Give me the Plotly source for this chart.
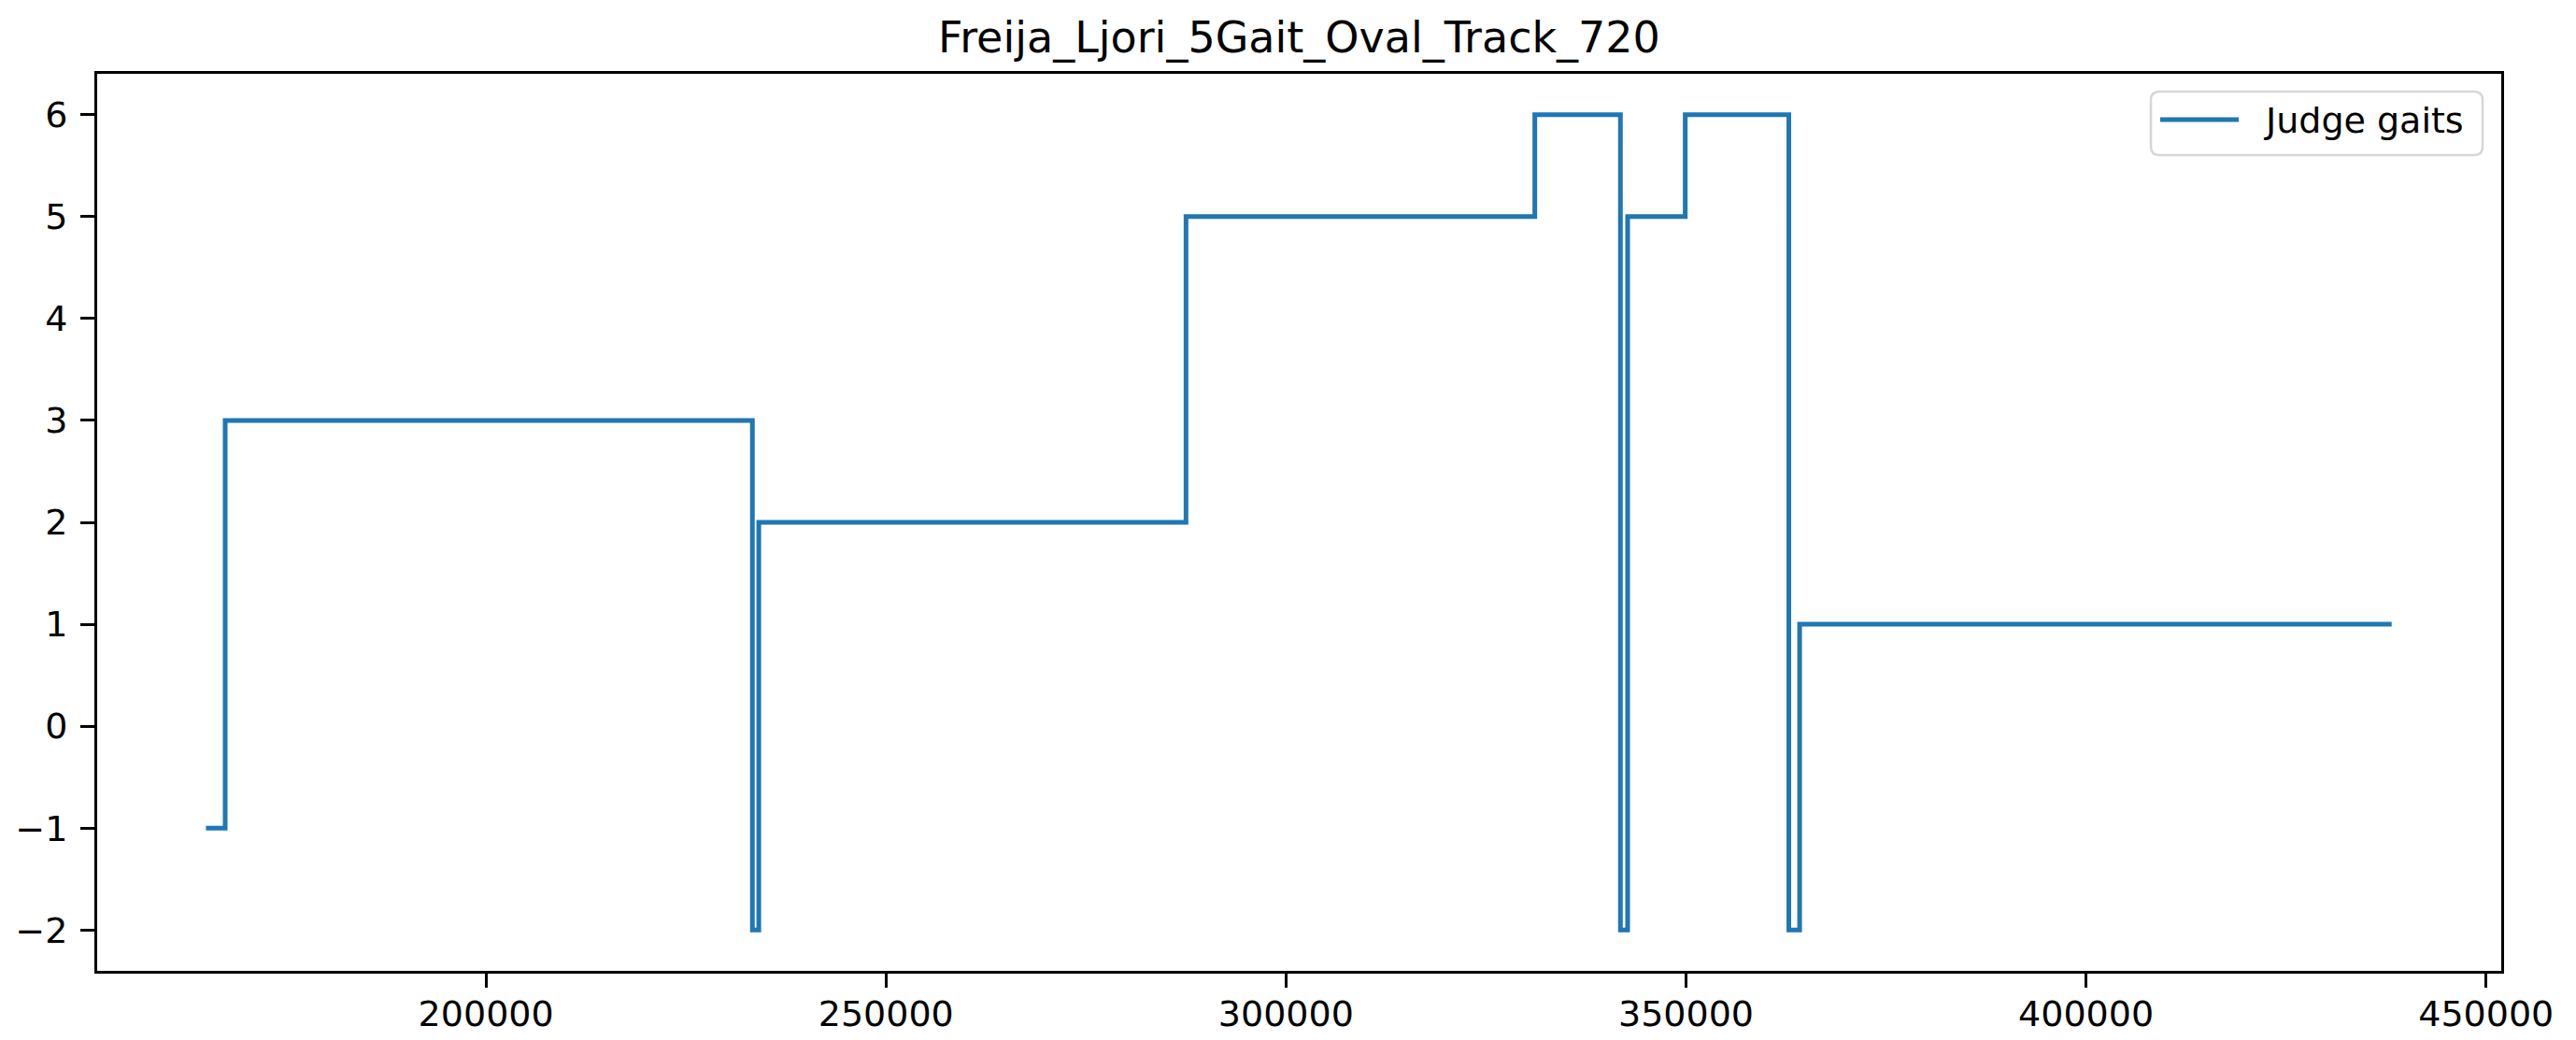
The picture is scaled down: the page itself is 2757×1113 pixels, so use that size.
import plotly.graph_objects as go

# Data (change points of the step series)
times = [165000, 167400, 233300, 234100, 287500, 331100, 341800, 342700, 349900, 362850, 364200, 438200]
gaits = [-1, 3, -2, 2, 5, 6, -2, 5, 6, -2, 1, 1]
x_ticks = [200000, 250000, 300000, 350000, 400000, 450000]
y_ticks = [-2, -1, 0, 1, 2, 3, 4, 5, 6]
title_text = "Freija_Ljori_5Gait_Oval_Track_720"
series_name = "Judge gaits"

# The page body keeps the browser's default 8px margin, so the figure is
# placed at (8, 8) in the window; size and margins compensate for that.
OFF = 8
WIN_W, WIN_H = 2757, 1113
W, H = WIN_W - OFF, WIN_H - OFF
PLOT_L, PLOT_R, PLOT_T, PLOT_B = 104, 2677, 79, 1039  # window pixels
ml, mt = PLOT_L - OFF, PLOT_T - OFF
mr, mb = (OFF + W) - PLOT_R, (OFF + H) - PLOT_B
PW, PH = PLOT_R - PLOT_L, PLOT_B - PLOT_T


def px_x(p):
    return (p - PLOT_L) / PW


def px_y(p):
    return (PLOT_B - p) / PH


LINE_COLOR = "#1f77b4"

fig = go.Figure()
fig.add_trace(go.Scatter(
    x=times, y=gaits, mode="lines", line_shape="hv",
    line=dict(color=LINE_COLOR, width=5), name=series_name, showlegend=False,
))

font = dict(family="DejaVu Sans", size=38, color="#000000")
axis_common = dict(
    showline=True, mirror=True, linecolor="#000000", linewidth=3,
    ticks="outside", ticklen=15, tickwidth=3, tickcolor="#000000",
    showgrid=False, zeroline=False, tickfont=font, automargin=False,
)
fig.update_xaxes(range=[151400, 451900], tickvals=x_ticks, ticktext=[str(v) for v in x_ticks],
                 ticklabelstandoff=-5, **axis_common)
fig.update_yaxes(range=[-2.4, 6.4], tickvals=y_ticks,
                 ticktext=[("\u2212" + str(-v)) if v < 0 else str(v) for v in y_ticks],
                 ticklabelstandoff=6, **axis_common)

# Legend box (matplotlib style, rounded corners)
bx0, bx1, by0, by1, r = px_x(2302), px_x(2657), px_y(166), px_y(98), 9
rx, ry = r / PW, r / PH
path = (f"M{bx0+rx},{by1} L{bx1-rx},{by1} Q{bx1},{by1} {bx1},{by1-ry} "
        f"L{bx1},{by0+ry} Q{bx1},{by0} {bx1-rx},{by0} L{bx0+rx},{by0} "
        f"Q{bx0},{by0} {bx0},{by0+ry} L{bx0},{by1-ry} Q{bx0},{by1} {bx0+rx},{by1} Z")
fig.add_shape(type="path", path=path, xref="paper", yref="paper",
              line=dict(color="#d6d6d6", width=2.5), fillcolor="rgba(255,255,255,0.8)", layer="above")
fig.add_shape(type="line", xref="paper", yref="paper", x0=px_x(2312), x1=px_x(2396),
              y0=px_y(128), y1=px_y(128), line=dict(color=LINE_COLOR, width=5), layer="above")
fig.add_annotation(text=series_name, xref="paper", yref="paper", x=px_x(2421), y=px_y(129),
                   xanchor="left", yanchor="middle", showarrow=False, font=font)

fig.update_layout(
    width=W, height=H,
    margin=dict(l=ml, r=mr, t=mt, b=mb),
    paper_bgcolor="white", plot_bgcolor="white",
    font=font,
    title=dict(text=title_text, font=dict(family="DejaVu Sans", size=46, color="#000000"),
               x=0.5, xref="paper", xanchor="center", y=1 - 32 / H, yref="container", yanchor="middle"),
    showlegend=False,
)

fig.write_html("out.html")
